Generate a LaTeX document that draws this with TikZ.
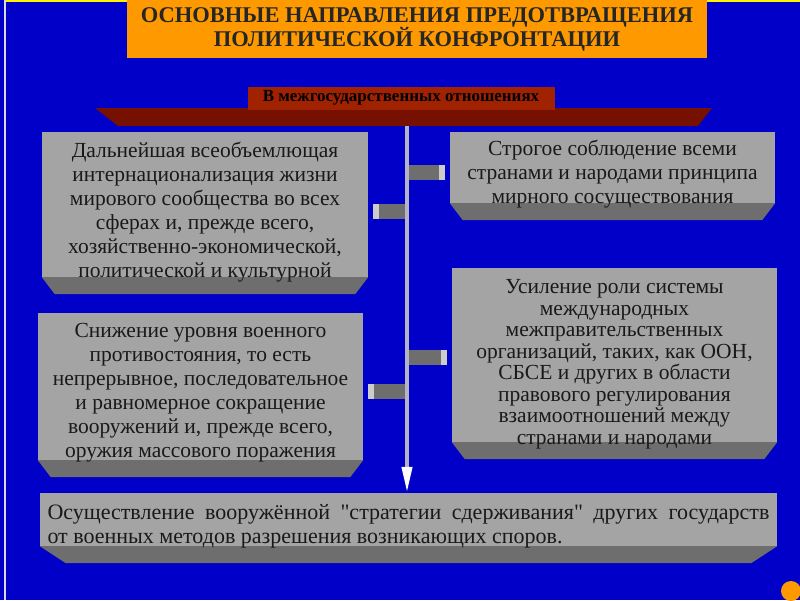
\documentclass[tikz,border=0pt]{standalone}
\usepackage{fontspec}
\setmainfont{Liberation Serif}
\usetikzlibrary{arrows.meta}
\definecolor{slideblue}{RGB}{0,0,200}
\definecolor{titleorange}{RGB}{255,153,0}
\definecolor{bannerred}{RGB}{160,34,0}
\definecolor{slabred}{RGB}{118,16,0}
\definecolor{faceg}{RGB}{164,164,164}
\definecolor{bevelg}{RGB}{110,110,110}
\definecolor{shaftg}{RGB}{180,180,198}
\definecolor{capg}{RGB}{204,204,204}
\pgfdeclarelayer{back}
\pgfdeclarelayer{mid}
\pgfsetlayers{back,mid,main}
\tikzset{
	titlebox/.style={fill=titleorange, minimum width=580pt, minimum height=58pt, inner sep=0pt, align=center, font=\fontsize{22.5}{24}\selectfont\bfseries, text=black!85},
	banner/.style={fill=bannerred, minimum width=307pt, minimum height=23pt, inner sep=0pt, font=\fontsize{17}{18}\selectfont\bfseries, text=black},
	facebox/.style={fill=faceg, inner sep=0pt},
	facetext/.style={inner sep=0pt, align=center, font=\fontsize{21.5}{24}\selectfont, text=black!90},
	stub/.style={bevelg, line width=15pt, shorten >=5pt, -{Rectangle[length=6pt, width=0pt 1, color=capg, fill=capg]}},
	shaft/.style={shaftg, line width=4pt, -{Triangle[length=26pt, width=10pt, color=white, fill=white]}}
}
\begin{document}
\begin{tikzpicture}[x=1pt,y=-1pt]
	\useasboundingbox (0,0) rectangle (800,600);
	\begin{pgfonlayer}{back}
	\fill[slideblue] (0,0) rectangle (800,600);
	\draw[yellow, line width=1.5pt] (5,1) -- (800,1);
	\draw[black!15, line width=1.5pt] (5,0) -- (5,600);
	\fill[slabred] (95,108) -- (712,108) -- (698,126) -- (118,126) -- cycle;
	\fill[titleorange] (791,591) circle (10pt);
	\end{pgfonlayer}
	\node[titlebox] (title) at (417,29) {ОСНОВНЫЕ НАПРАВЛЕНИЯ ПРЕДОТВРАЩЕНИЯ\\ПОЛИТИЧЕСКОЙ КОНФРОНТАЦИИ};
	\node[banner] (rel) at (401,98) {В межгосударственных отношениях};
	\node[facebox, minimum width=326pt, minimum height=145pt] (tl) at (205,204.5) {};
	\node[facebox, minimum width=325pt, minimum height=71pt] (tr) at (612.5,167.5) {};
	\node[facebox, minimum width=325pt, minimum height=147pt] (ml) at (200.5,386.5) {};
	\node[facebox, minimum width=325pt, minimum height=174pt] (mr) at (614.5,355) {};
	\node[facebox, minimum width=737pt, minimum height=53pt] (bot) at (408.5,519.5) {};
	\node[facetext] (tltext) at ([shift={(0,8)}]tl.center) {Дальнейшая всеобъемлющая\\интернационализация жизни\\мирового сообщества во всех\\сферах и, прежде всего,\\хозяйственно-экономической,\\политической и культурной};
	\node[facetext] (trtext) at ([shift={(0,7)}]tr.center) {Строгое соблюдение всеми\\странами и народами принципа\\мирного сосуществования};
	\node[facetext] (mltext) at ([shift={(0,6)}]ml.center) {Снижение уровня военного\\противостояния, то есть\\непрерывное, последовательное\\и равномерное сокращение\\вооружений и, прежде всего,\\оружия массового поражения};
	\node[facetext, font=\fontsize{21.5}{21.5}\selectfont] (mrtext) at ([shift={(0,9)}]mr.center) {Усиление роли системы\\международных\\межправительственных\\организаций, таких, как ООН,\\СБСЕ и других в области\\правового регулирования\\взаимоотношений между\\странами и народами};
	\node[facetext, font=\fontsize{22}{24}\selectfont, text width=722pt, align=justify] (bottext) at ([shift={(0,7)}]bot.center) {Осуществление вооружённой \textquotedbl стратегии сдерживания\textquotedbl{} других государств\linebreak от военных методов разрешения возникающих споров.};
	\begin{pgfonlayer}{mid}
	\foreach \b/\d in {tl/13,tr/13,ml/13,mr/13,bot/26}
		\fill[bevelg] (\b.south west) -- (\b.south east) -- ([shift={(-\d,17)}]\b.south east) -- ([shift={(\d,17)}]\b.south west) -- cycle;
	\end{pgfonlayer}
	\coordinate (top) at (407,126);
	\coordinate (s1) at (407,172);
	\coordinate (s2) at (407,211);
	\coordinate (s3) at (407,357);
	\coordinate (s4) at (407,391);
	\draw[stub] (s1) -- (s1 -| tr.west);
	\draw[stub] (s2) -- (s2 -| tl.east);
	\draw[stub] (s3) -- (s3 -| mr.west);
	\draw[stub] (s4) -- (s4 -| ml.east);
	\draw[shaft] (top) -- (top |- bot.north);
\end{tikzpicture}
\end{document}
